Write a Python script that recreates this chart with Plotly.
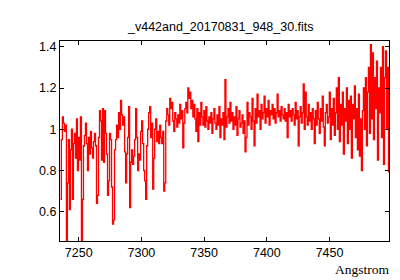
import plotly.graph_objects as go

# Spectrum sampling (linear wavelength grid as in a FITS header)
WAVE_START = 7235.4   # Angstrom
WAVE_STEP = 0.8       # Angstrom per pixel

flux = [
    0.66, 0.95, 1.06, 1.03, 0.99, 1.02, 0.46, 0.74, 0.95, 0.61,
    0.90, 1.00, 0.66, 0.93, 0.98, 0.86, 1.05, 0.80, 0.96, 0.85,
    1.06, 0.46, 0.66, 0.92, 0.97, 1.03, 0.93, 0.80, 0.96, 0.88,
    0.99, 0.91, 0.86, 0.94, 0.98, 0.92, 0.64, 0.68, 0.96, 1.09,
    1.04, 0.85, 1.10, 0.84, 1.09, 0.98, 0.88, 0.68, 0.75, 0.98,
    0.95, 0.72, 0.54, 0.56, 0.90, 0.95, 1.02, 0.96, 1.08, 1.00,
    1.14, 1.07, 1.02, 1.06, 0.89, 0.74, 0.88, 0.96, 1.11, 0.62,
    0.84, 0.90, 0.83, 0.87, 0.95, 1.10, 0.96, 0.80, 0.88, 0.85,
    0.99, 1.04, 0.93, 0.80, 0.75, 0.66, 0.92, 1.00, 1.08, 1.11,
    0.96, 1.03, 0.71, 0.86, 1.00, 1.05, 0.94, 0.99, 0.93, 1.02,
    0.96, 0.93, 0.99, 0.70, 0.74, 1.04, 1.10, 1.07, 1.02, 1.15,
    1.10, 1.13, 1.04, 0.99, 1.08, 1.05, 1.01, 1.07, 1.03, 1.12,
    1.05, 1.09, 0.91, 1.03, 1.10, 1.13, 1.08, 1.20, 1.15, 1.18,
    1.10, 1.14, 1.06, 1.12, 1.05, 0.99, 1.10, 0.94, 1.08, 1.02,
    1.13, 1.06, 1.02, 1.09, 1.01, 1.11, 1.04, 1.00, 1.06, 1.03,
    1.08, 0.98, 1.05, 1.10, 1.03, 1.00, 1.07, 1.02, 1.11, 0.96,
    1.05, 1.02, 1.08, 0.95, 1.24, 1.01, 1.06, 1.10, 1.03, 1.13,
    1.04, 1.08, 1.00, 1.06, 1.02, 1.11, 0.97, 1.05, 1.09, 1.01,
    1.03, 1.07, 0.98, 1.04, 0.89, 0.96, 1.13, 1.02, 1.08, 1.06,
    1.00, 1.15, 1.04, 0.92, 1.10, 1.03, 1.17, 1.06, 1.09, 1.00,
    1.12, 1.05, 1.08, 1.16, 1.03, 1.10, 1.06, 1.14, 1.02, 1.09,
    1.07, 1.12, 1.05, 1.10, 1.03, 1.08, 1.17, 1.06, 1.09, 1.04,
    1.11, 1.07, 1.05, 1.10, 1.04, 1.08, 0.96, 1.12, 1.06, 1.09,
    1.04, 1.10, 1.07, 1.02, 1.13, 1.05, 1.09, 0.92, 1.06, 1.11,
    1.03, 1.08, 1.22, 1.00, 1.18, 1.06, 1.02, 1.12, 1.04, 1.08,
    1.00, 1.10, 1.05, 0.93, 1.09, 1.02, 1.13, 1.05, 0.98, 1.10,
    1.04, 1.16, 1.01, 0.92, 1.08, 1.12, 1.03, 1.06, 1.18, 0.95,
    1.10, 1.02, 1.15, 0.97, 1.08, 1.20, 1.00, 1.25, 0.94, 1.12,
    1.02, 1.18, 0.88, 1.10, 1.04, 1.20, 0.93, 1.14, 1.00, 1.16,
    0.86, 1.12, 1.05, 1.21, 0.96, 1.10, 0.90, 1.17, 0.87, 1.05,
    0.80, 1.09, 1.20, 1.00, 1.25, 0.92, 1.18, 1.30, 0.98, 1.41,
    1.05, 1.37, 0.95, 1.25, 1.10, 1.33, 0.85, 1.20, 1.08, 1.30,
    0.96, 1.40, 0.83, 1.25, 1.38, 1.00, 1.30, 0.79,
]

wavelength = [WAVE_START + WAVE_STEP * i for i in range(len(flux))]

x_ticks = [7250, 7300, 7350, 7400, 7450]
y_ticks = [0.6, 0.8, 1.0, 1.2, 1.4]
y_tick_labels = ["0.6", "0.8", "1", "1.2", "1.4"]

title_text = "_v442and_20170831_948_30.fits"
x_label = "Angstrom"

fig = go.Figure()
fig.add_trace(go.Scatter(
    x=wavelength, y=flux, mode="lines",
    line=dict(color="#ff0000", width=1.3, shape="hv"),
    hoverinfo="skip", showlegend=False,
))

axis_common = dict(
    showgrid=False, zeroline=False, showline=True, linecolor="black",
    linewidth=1, mirror="ticks", ticks="inside", ticklen=4,
    tickcolor="black", tickwidth=1,
    tickfont=dict(family="Liberation Sans, Arial, sans-serif", size=12.5, color="black"),
)

fig.update_layout(
    width=400, height=280,
    margin=dict(l=52, r=19, t=33, b=47),
    paper_bgcolor="white", plot_bgcolor="white",
    xaxis=dict(range=[7235.1, 7497.4], tickvals=x_ticks, **axis_common),
    yaxis=dict(range=[0.458, 1.428], tickvals=y_ticks, ticktext=y_tick_labels, **axis_common),
    annotations=[
        dict(text=title_text, xref="paper", yref="paper", x=0.489, y=1.0,
             yshift=14, xanchor="center", yanchor="middle", showarrow=False,
             font=dict(family="Liberation Sans, Arial, sans-serif", size=12.5, color="black")),
        dict(text=x_label, xref="paper", yref="paper", x=1.006, y=-0.144,
             xanchor="right", yanchor="middle", showarrow=False,
             font=dict(family="Liberation Serif, serif", size=13.5, color="black")),
    ],
)

fig.write_html("out.html")
